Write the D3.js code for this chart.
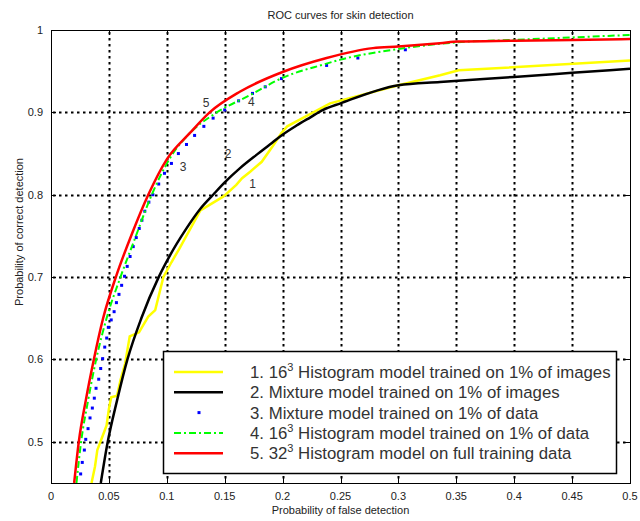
<!DOCTYPE html>
<html>
<head>
<meta charset="utf-8">
<script src="https://cdnjs.cloudflare.com/ajax/libs/d3/7.8.5/d3.min.js"></script>
<style>
	body { margin: 0; background: #fff; }
	text { font-family: "Liberation Sans", Arial, Helvetica, sans-serif; fill: #222; }
</style>
</head>
<body>
<script>
	// ROC curves, values: [false detection, correct detection]
	var yellow1 = [[0.035,0.45],[0.038,0.47],[0.040,0.49],[0.044,0.505],[0.048,0.52],[0.050,0.54],[0.052,0.554],
		[0.057,0.556],[0.060,0.575],[0.064,0.595],[0.068,0.628],[0.076,0.633],[0.084,0.652],[0.090,0.660],
		[0.097,0.700],[0.104,0.718],[0.111,0.735],[0.120,0.758],[0.129,0.781],[0.149,0.798],[0.160,0.812],
		[0.165,0.820],[0.172,0.828],[0.182,0.840],[0.192,0.860],[0.199,0.875],[0.204,0.883],[0.241,0.911],
		[0.300,0.933],[0.336,0.945],[0.352,0.951],[0.500,0.963]];

	var black2 = [[0.043,0.45],[0.049,0.50],[0.057,0.55],[0.066,0.60],[0.078,0.65],[0.093,0.70],[0.103,0.727],
		[0.116,0.757],[0.129,0.783],[0.140,0.800],[0.150,0.815],[0.163,0.832],[0.178,0.849],[0.189,0.861],
		[0.199,0.872],[0.212,0.884],[0.224,0.894],[0.235,0.903],[0.250,0.911],[0.300,0.933],[0.336,0.937],
		[0.400,0.943],[0.450,0.948],[0.500,0.953]];

	var blue3 = [[0.0256,0.461],[0.0270,0.475],[0.0288,0.490],[0.0300,0.503],[0.0320,0.516],[0.0337,0.529],
		[0.0357,0.541],[0.0374,0.553],[0.0389,0.565],[0.0412,0.576],[0.0429,0.589],[0.0446,0.601],[0.0464,0.615],
		[0.0481,0.626],[0.0495,0.639],[0.0520,0.648],[0.0545,0.658],[0.0565,0.669],[0.0587,0.679],[0.0610,0.690],
		[0.0635,0.701],[0.0658,0.713],[0.0683,0.725],[0.0710,0.737],[0.0736,0.748],[0.0762,0.759],[0.0785,0.769],
		[0.0810,0.780],[0.0845,0.791],[0.0880,0.800],[0.0930,0.813],[0.0980,0.826],[0.1040,0.838],[0.1100,0.850],
		[0.1170,0.861],[0.1240,0.872],[0.1320,0.883],[0.1400,0.893],[0.1500,0.903],[0.1620,0.914],[0.1740,0.923],
		[0.1850,0.931],[0.1990,0.941],[0.2380,0.957],[0.2650,0.966],[0.3060,0.976]];

	var green4 = [[0.022,0.45],[0.026,0.50],[0.032,0.55],[0.039,0.60],[0.048,0.65],[0.060,0.70],[0.072,0.745],
		[0.087,0.80],[0.103,0.845],[0.120,0.875],[0.141,0.898],[0.172,0.921],[0.200,0.942],[0.235,0.958],
		[0.250,0.964],[0.300,0.977],[0.350,0.985],[0.400,0.988],[0.450,0.991],[0.500,0.994]];

	var red5 = [[0.020,0.45],[0.024,0.50],[0.030,0.55],[0.037,0.60],[0.045,0.65],[0.056,0.70],[0.070,0.753],
		[0.084,0.80],[0.100,0.843],[0.120,0.875],[0.137,0.90],[0.163,0.925],[0.200,0.949],[0.238,0.966],
		[0.278,0.978],[0.300,0.980],[0.336,0.984],[0.352,0.986],[0.400,0.987],[0.450,0.988],[0.500,0.989]];

	var xTicks = [0, 0.05, 0.1, 0.15, 0.2, 0.25, 0.3, 0.35, 0.4, 0.45, 0.5];
	var yTicks = [0.5, 0.6, 0.7, 0.8, 0.9, 1];

	var legendNames = [
		["1. 16", "3", " Histogram model trained on 1% of images"],
		["2. Mixture model trained on 1% of images"],
		["3. Mixture model trained on 1% of data"],
		["4. 16", "3", " Histogram model trained on 1% of data"],
		["5. 32", "3", " Histogram model on full training data"]
	];
	var curveLabels = [
		{ t: "1", x: 0.174, y: 0.808 },
		{ t: "2", x: 0.153, y: 0.845 },
		{ t: "3", x: 0.114, y: 0.829 },
		{ t: "4", x: 0.173, y: 0.908 },
		{ t: "5", x: 0.134, y: 0.906 }
	];

	var W = 640, H = 521,
		m = { left: 51, right: 10, top: 30, bottom: 38 };

	var svg = d3.select("body").append("svg")
				.attr("width", W).attr("height", H);

	var x = d3.scaleLinear().domain([0, 0.5]).range([m.left, W - m.right]);
	var y = d3.scaleLinear().domain([0.45, 1]).range([H - m.bottom, m.top]);

	// dotted grid, one small rect per dot (matlab ':' style)
	var grid = svg.append("g").attr("fill", "#000");
	xTicks.slice(1, -1).forEach(function(d) {
		var px = Math.round(x(d)) - 0.5;
		d3.range(Math.round(y(1)) + 2, y(0.45) - 2, 6).forEach(function(py) {
			grid.append("rect").attr("x", px).attr("y", py).attr("width", 2).attr("height", 2.5);
		});
	});
	yTicks.slice(0, -1).forEach(function(d) {
		var py = Math.round(y(d)) - 0.5;
		d3.range(Math.round(x(0)) + 2, x(0.5) - 2, 6).forEach(function(px) {
			grid.append("rect").attr("x", px).attr("y", py).attr("width", 2.5).attr("height", 2);
		});
	});

	// curves
	svg.append("clipPath").attr("id", "clip").append("rect")
	   .attr("x", x(0)).attr("y", y(1)).attr("width", x(0.5) - x(0)).attr("height", y(0.45) - y(1));

	var line = d3.line().x(function(d) { return x(d[0]); }).y(function(d) { return y(d[1]); });
	var smooth = d3.line().curve(d3.curveMonotoneX)
				   .x(function(d) { return x(d[0]); }).y(function(d) { return y(d[1]); });
	var curves = svg.append("g").attr("clip-path", "url(#clip)").attr("fill", "none");

	curves.append("path").datum(yellow1).attr("d", line).attr("stroke", "#ffff00").attr("stroke-width", 2.5);
	curves.append("path").datum(black2).attr("d", smooth).attr("stroke", "#000").attr("stroke-width", 2.5);
	curves.selectAll(".dot").data(blue3).enter().append("rect")
		.attr("x", function(d) { return x(d[0]) - 1.5; })
		.attr("y", function(d) { return y(d[1]) - 1.5; })
		.attr("width", 3).attr("height", 3).attr("fill", "#0000ff");
	curves.append("path").datum(green4).attr("d", smooth).attr("stroke", "#00ff00").attr("stroke-width", 2)
		  .attr("stroke-dasharray", "7,3,2,3");
	curves.append("path").datum(red5).attr("d", smooth).attr("stroke", "#ff0000").attr("stroke-width", 2.5);

	// curve numbers
	svg.selectAll(".cl").data(curveLabels).enter().append("text")
	   .attr("x", function(d) { return x(d.x); })
	   .attr("y", function(d) { return y(d.y); })
	   .attr("text-anchor", "middle").attr("font-size", "12px").style("fill", "#333")
	   .text(function(d) { return d.t; });

	// box + inward ticks
	var axes = svg.append("g").attr("stroke", "#000").attr("stroke-width", 1);
	axes.append("rect").attr("x", Math.round(x(0)) + 0.5).attr("y", Math.round(y(1)) + 0.5)
		.attr("width", Math.round(x(0.5) - x(0))).attr("height", Math.round(y(0.45) - y(1))).attr("fill", "none");
	xTicks.forEach(function(d) {
		var px = Math.round(x(d)) + 0.5;
		axes.append("line").attr("x1", px).attr("x2", px).attr("y1", y(0.45)).attr("y2", y(0.45) - 5);
		axes.append("line").attr("x1", px).attr("x2", px).attr("y1", y(1)).attr("y2", y(1) + 5);
	});
	yTicks.forEach(function(d) {
		var py = Math.round(y(d)) + 0.5;
		axes.append("line").attr("y1", py).attr("y2", py).attr("x1", x(0)).attr("x2", x(0) + 5);
		axes.append("line").attr("y1", py).attr("y2", py).attr("x1", x(0.5)).attr("x2", x(0.5) - 5);
	});

	svg.selectAll(".xt").data(xTicks).enter().append("text")
	   .attr("x", function(d) { return x(d); }).attr("y", y(0.45) + 17)
	   .attr("text-anchor", "middle").attr("font-size", "11px")
	   .text(function(d) { return d; });
	svg.selectAll(".yt").data(yTicks).enter().append("text")
	   .attr("x", x(0) - 8).attr("y", function(d) { return y(d) + 4; })
	   .attr("text-anchor", "end").attr("font-size", "11px")
	   .text(function(d) { return d; });

	svg.append("text").attr("x", (x(0) + x(0.5)) / 2).attr("y", 19)
	   .attr("text-anchor", "middle").attr("font-size", "11px")
	   .text("ROC curves for skin detection");
	svg.append("text").attr("x", (x(0) + x(0.5)) / 2).attr("y", 514)
	   .attr("text-anchor", "middle").attr("font-size", "11px")
	   .text("Probability of false detection");
	svg.append("text").attr("transform", "translate(23," + 232 + ") rotate(-90)")
	   .attr("text-anchor", "middle").attr("font-size", "11px")
	   .text("Probability of correct detection");

	// legend
	var lg = svg.append("g").attr("transform", "translate(163,351)");
	lg.append("rect").attr("x", 0.5).attr("y", 0.5).attr("width", 453).attr("height", 122)
	  .attr("fill", "#fff").attr("stroke", "#000").attr("stroke-width", 1.5);

	var styles = [
		{ c: "#ffff00", w: 2.5 }, { c: "#000", w: 2.5 }, { c: "#0000ff", dot: true },
		{ c: "#00ff00", w: 2, dash: "7,3,2,3" }, { c: "#ff0000", w: 2.5 }
	];
	legendNames.forEach(function(n, i) {
		var ry = 21 + i * 20.3, s = styles[i];
		if (s.dot) {
			lg.append("rect").attr("x", 34.5).attr("y", ry - 1.5).attr("width", 3).attr("height", 3).attr("fill", s.c);
		} else {
			lg.append("line").attr("x1", 11).attr("x2", 60).attr("y1", ry).attr("y2", ry)
			  .attr("stroke", s.c).attr("stroke-width", s.w).attr("stroke-dasharray", s.dash || null);
		}
		var t = lg.append("text").attr("x", 87).attr("y", ry + 6).attr("font-size", "16.8px").style("fill", "#333");
		if (n.length === 1) {
			t.text(n[0]);
		} else {
			t.append("tspan").text(n[0]);
			t.append("tspan").attr("dy", -7).attr("font-size", "11px").text(n[1]);
			t.append("tspan").attr("dy", 7).text(n[2]);
		}
	});
</script>
</body>
</html>
